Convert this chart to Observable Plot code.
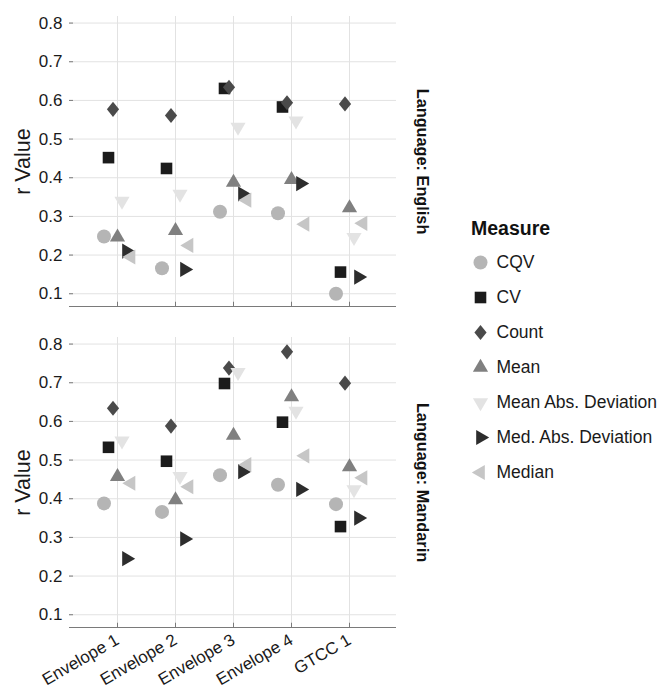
<!DOCTYPE html>
<html><head><meta charset="utf-8">
<script src="https://cdn.jsdelivr.net/npm/d3@7"></script>
<script src="https://cdn.jsdelivr.net/npm/@observablehq/plot@0.6"></script>
<style>
body{margin:0;background:#fff;font-family:"Liberation Sans",Arial,Helvetica,sans-serif}
#wrap{position:relative;width:662px;height:696px;overflow:hidden}
#main{position:absolute;left:0;top:0}
#legendTitle{position:absolute;left:471px;top:216px;font-size:19.5px;font-weight:bold;line-height:24px;color:#111}
#legend{position:absolute;left:465px;top:245px}
</style></head><body>
<div id="wrap"><div id="main"></div><div id="legendTitle">Measure</div><div id="legend"></div></div>
<script>
const languages = ["English", "Mandarin"];
const features = ["Envelope 1", "Envelope 2", "Envelope 3", "Envelope 4", "GTCC 1"];
const measures = ["CQV", "CV", "Count", "Mean", "Mean Abs. Deviation", "Med. Abs. Deviation", "Median"];
const yTicks = [0.1, 0.2, 0.3, 0.4, 0.5, 0.6, 0.7, 0.8];

// rows: measures (same order as `measures`), columns: features
const englishValues = [
  [0.248, 0.166, 0.312, 0.308, 0.100], // CQV
  [0.452, 0.424, 0.631, 0.583, 0.156], // CV
  [0.577, 0.561, 0.634, 0.594, 0.591], // Count
  [0.246, 0.263, 0.388, 0.395, 0.322], // Mean
  [0.340, 0.358, 0.531, 0.547, 0.246], // Mean Abs. Deviation
  [0.210, 0.163, 0.358, 0.385, 0.143], // Med. Abs. Deviation
  [0.195, 0.225, 0.342, 0.280, 0.282]  // Median
];
const mandarinValues = [
  [0.388, 0.366, 0.461, 0.436, 0.386], // CQV
  [0.533, 0.497, 0.698, 0.598, 0.328], // CV
  [0.634, 0.588, 0.738, 0.780, 0.699], // Count
  [0.457, 0.397, 0.564, 0.663, 0.482], // Mean
  [0.550, 0.458, 0.727, 0.627, 0.424], // Mean Abs. Deviation
  [0.245, 0.296, 0.470, 0.424, 0.350], // Med. Abs. Deviation
  [0.440, 0.431, 0.488, 0.511, 0.454]  // Median
];

const colors = ["#b5b5b5", "#1b1b1b", "#4a4a4a", "#808080", "#e3e3e3", "#2d2d2d", "#c6c6c6"];

const rows = [];
[englishValues, mandarinValues].forEach((tbl, li) => {
  tbl.forEach((vals, mi) => {
    vals.forEach((v, fi) => rows.push({language: languages[li], measure: measures[mi], feature: features[fi], value: v}));
  });
});

// custom symbols (reference size r = 6 -> sqrt(size) ≈ 10.63)
const BASE = Math.sqrt(36 * Math.PI);
function poly(pts) {
  return {draw(ctx, size) {
    const f = Math.sqrt(size) / BASE;
    ctx.moveTo(pts[0][0] * f, pts[0][1] * f);
    for (let i = 1; i < pts.length; i++) ctx.lineTo(pts[i][0] * f, pts[i][1] * f);
    ctx.closePath();
  }};
}
const circleSym = {draw(ctx, size) { const r = 7 * Math.sqrt(size) / BASE; ctx.moveTo(r, 0); ctx.arc(0, 0, r, 0, 2 * Math.PI); }};
const squareSym = poly([[-5.8, -5.8], [5.8, -5.8], [5.8, 5.8], [-5.8, 5.8]]);
const diamondSym = poly([[0, -7.6], [6.1, 0], [0, 7.6], [-6.1, 0]]);
const triUp = poly([[0, -8.7], [7.6, 4.3], [-7.6, 4.3]]);
const triDown = poly([[0, 8.7], [7.6, -4.3], [-7.6, -4.3]]);
const triRight = poly([[8.7, 0], [-4.3, -7.6], [-4.3, 7.6]]);
const triLeft = poly([[-8.7, 0], [4.3, -7.6], [4.3, 7.6]]);
const symbols = [circleSym, squareSym, diamondSym, triUp, triDown, triRight, triLeft];

const yDomain = [0.067, 0.817];
const font = "Liberation Sans, Arial, Helvetica, sans-serif";

const main = Plot.plot({
  width: 450, height: 696,
  marginLeft: 69, marginRight: 54, marginTop: 15, marginBottom: 68,
  style: {fontFamily: font, fontSize: "17px", color: "#1a1a1a", background: "#fff"},
  x: {type: "point", domain: features, padding: 0.8},
  y: {domain: yDomain},
  fy: {domain: languages, paddingInner: 0.096, paddingOuter: 0, axis: null},
  symbol: {domain: measures, range: symbols},
  color: {domain: measures, range: colors},
  marks: [
    Plot.gridX(features, {stroke: "#e2e2e2", strokeOpacity: 1}),
    Plot.gridY(yTicks, {stroke: "#e2e2e2", strokeOpacity: 1}),
    Plot.ruleY([yDomain[0]], {stroke: "#7a7a7a", strokeWidth: 1}),
    Plot.ruleX(features, {x: d => d, y1: yDomain[0], y2: yDomain[0] + 0.011, stroke: "#7a7a7a"}),
    Plot.axisY(yTicks, {tickSize: 4, dx: 4, tickFormat: () => "", stroke: "#7a7a7a", label: null}),
    Plot.axisY(yTicks, {tickSize: 0, tickPadding: 7, line: true, stroke: "#7a7a7a", label: null, fontSize: 17, tickFormat: d => d.toFixed(1)}),
    Plot.axisX({tickSize: 0, tickPadding: 11, tickRotate: -30, label: null, fontSize: 17}),
    ...measures.map((m, i) => Plot.dot(rows.filter(d => d.measure === m), {
      x: "feature", y: "value", fy: "language",
      symbol: "measure", fill: "measure", r: 6, dx: (i - 3) * 4.5
    })),
    Plot.text(languages, {fy: d => d, text: d => "Language: " + d, frameAnchor: "right", textAnchor: "middle", lineAnchor: "middle", rotate: 90, dx: 26, fontWeight: "bold", fontSize: 16.3, fill: "#111"}),
    Plot.text(["r Value"], {frameAnchor: "left", textAnchor: "middle", lineAnchor: "middle", rotate: -90, dx: -46, fontSize: 21.5, fill: "#1a1a1a"})
  ]
});
document.getElementById("main").appendChild(main);

const legend = Plot.plot({
  width: 197, height: 244,
  marginTop: 17, marginBottom: 17, marginLeft: 0, marginRight: 0,
  style: {fontFamily: font, fontSize: "17.5px", color: "#1a1a1a", background: "#fff"},
  y: {type: "point", domain: measures, padding: 0, axis: null},
  symbol: {domain: measures, range: symbols},
  color: {domain: measures, range: colors},
  marks: [
    Plot.dot(measures, {y: d => d, frameAnchor: "left", dx: 15, symbol: d => d, fill: d => d, r: 6}),
    Plot.text(measures, {y: d => d, frameAnchor: "left", dx: 31, textAnchor: "start", text: d => d, fontSize: 17.5, fill: "#1a1a1a"})
  ]
});
document.getElementById("legend").appendChild(legend);
</script>
</body></html>
